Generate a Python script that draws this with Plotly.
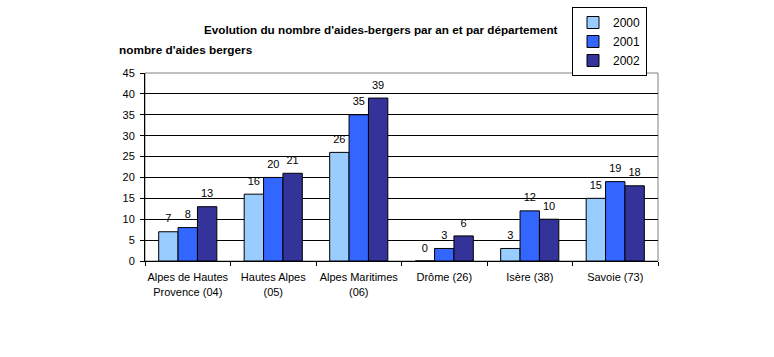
import plotly.graph_objects as go

categories = ["Alpes de Hautes<br>Provence (04)", "Hautes Alpes<br>(05)", "Alpes Maritimes<br>(06)",
              "Drôme (26)", "Isère (38)", "Savoie (73)"]
years = ["2000", "2001", "2002"]
v2000 = [7, 16, 26, 0, 3, 15]
v2001 = [8, 20, 35, 3, 12, 19]
v2002 = [13, 21, 39, 6, 10, 18]
colors = ["#99CCFF", "#3366FF", "#333399"]

FONT = "Liberation Sans, Arial, sans-serif"

fig = go.Figure()
for name, vals, col in zip(years, [v2000, v2001, v2002], colors):
    fig.add_trace(go.Bar(
        x=categories, y=vals, name=name, offsetgroup=name,
        marker=dict(color=col, line=dict(color="black", width=1)),
        hoverinfo="skip",
    ))
for name, vals in zip(years, [v2000, v2001, v2002]):
    fig.add_trace(go.Scatter(
        x=categories, y=vals, offsetgroup=name, showlegend=False,
        mode="markers+text", marker=dict(size=9, opacity=0),
        text=[str(v) for v in vals], textposition="top center",
        textfont=dict(family=FONT, size=11, color="black"),
        cliponaxis=False, hoverinfo="skip",
    ))

L, R, T, B = 145, 658, 73, 261
W, H = 774, 357

def px(x):
    return (x - L) / (R - L)

def py(y):
    return (B - y) / (B - T)

fig.update_layout(
    width=W, height=H,
    margin=dict(l=L, r=W - R, t=T, b=H - B, autoexpand=False),
    paper_bgcolor="white", plot_bgcolor="white",
    barmode="group", bargap=0.32, bargroupgap=0,
    scattermode="group", scattergap=0.32,
    font=dict(family=FONT, size=11, color="black"),
    showlegend=True,
    legend=dict(
        x=px(572), y=py(7), xanchor="left", yanchor="top",
        bordercolor="black", borderwidth=1, bgcolor="white",
        font=dict(family=FONT, size=12, color="black"),
        itemwidth=30, tracegroupgap=0,
    ),
    xaxis=dict(
        showline=True, linecolor="black", linewidth=1,
        ticks="outside", tickson="boundaries", ticklen=4, tickcolor="black",
        tickangle=0, ticklabelstandoff=6,
        tickfont=dict(family=FONT, size=11, color="black"),
        showgrid=False, fixedrange=True,
    ),
    yaxis=dict(
        range=[0, 45], dtick=5, tick0=0,
        showline=True, linecolor="black", linewidth=1,
        ticks="outside", ticklen=4, tickcolor="black", ticklabelstandoff=3,
        tickfont=dict(family=FONT, size=11, color="black"),
        showgrid=True, gridcolor="black", gridwidth=1,
        zeroline=False, fixedrange=True,
    ),
    shapes=[dict(type="rect", xref="paper", yref="paper", x0=0, x1=1, y0=0, y1=1,
                 line=dict(color="#808080", width=1), layer="below")],
    annotations=[
        dict(text="<b>Evolution du nombre d'aides-bergers par an et par département</b>",
             xref="paper", yref="paper", x=px(381), y=py(30), xanchor="center", yanchor="middle",
             showarrow=False, font=dict(family=FONT, size=11.7, color="black")),
        dict(text="<b>nombre d'aides bergers</b>",
             xref="paper", yref="paper", x=px(117), y=py(50), xanchor="left", yanchor="middle",
             showarrow=False, font=dict(family=FONT, size=11.8, color="black")),
    ],
)

fig.write_html("out.html", config={"displayModeBar": False},
               post_script="document.body.style.margin='0';document.body.style.overflow='hidden';")
